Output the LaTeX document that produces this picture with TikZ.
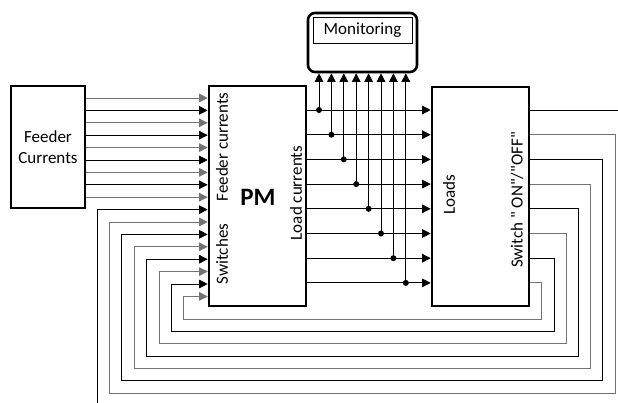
\documentclass[tikz,border=0pt]{standalone}
\usepackage{fontspec}
\setmainfont{Carlito}
\newfontfamily\plainquotes{Carlito}
\usetikzlibrary{arrows.meta}

\begin{document}
\begin{tikzpicture}[x=1pt,y=-1pt,
        >={Triangle[length=8.5pt,width=8.5pt]},
        box/.style={draw,line width=2.6pt,inner sep=0pt},
        wire/.style={line width=0.9pt},
        tap/.style={circle,fill,inner sep=0pt,minimum size=6pt},
        lbl/.style={font=\fontsize{17}{20.5}\selectfont,inner sep=0pt}]
            \useasboundingbox (0,0) rectangle (618,403);
            \clip (0,0) rectangle (618,403);

            \node[box,lbl,align=center,minimum width=74pt,minimum height=122pt] (feeder) at (48,147) {Feeder\\Currents};
            \node[box,minimum width=97pt,minimum height=220pt] (pm) at (257.5,196) {};
            \node[box,minimum width=97pt,minimum height=219pt] (loads) at (480.5,196.5) {};
            \node[box,rounded corners=7pt,minimum width=109pt,minimum height=59pt] (mon) at (362.5,42.5) {};
            \node[draw,line width=0.8pt,lbl,minimum width=99pt,minimum height=26pt] (monlabel) at (362.5,30) {Monitoring};

            \node[lbl,rotate=90] (fcur) at (222,147) {Feeder currents};
            \node[lbl,rotate=90] (sw) at (222,254) {Switches};
            \node[lbl,rotate=90] (lcur) at (296,193) {Load currents};
            \node[font=\fontsize{25}{30}\selectfont\bfseries,inner sep=0pt] (pmlabel) at (258,197) {PM};
            \node[lbl,rotate=90] (ldlabel) at (449,195) {Loads};
            \node[lbl,rotate=90,font=\fontsize{17}{20.5}\plainquotes] (swlabel) at (517,200) {Switch " ON"/"OFF"};

            % feeder currents into PM
            \foreach \k [evaluate=\k as \y using 98+12.4*\k,
                         evaluate=\k as \c using {int(mod(\k,2)==0 ? 55 : 100)}] in {0,...,8}
                \draw[wire,->,black!\c] (feeder.east |- 0,\y) -- (pm.west |- 0,\y);

            % switch states back from the loads
            \foreach \i in {0,...,7} {
                \pgfmathsetmacro\yl{209.6+12.4*\i}
                \pgfmathsetmacro\xl{97+12.4*\i}
                \pgfmathsetmacro\yb{405.3-12.3*\i}
                \pgfmathsetmacro\xr{627.2-12.2*\i}
                \pgfmathsetmacro\yr{110+24.7*\i}
                \pgfmathtruncatemacro\c{mod(\i,2)==0 ? 100 : 55}
                \draw[wire,->,black!\c] (loads.east |- 0,\yr) -| (\xr,\yb) -| (\xl,\yl) -- (pm.west |- 0,\yl);
            }

            % load currents, tapped for monitoring
            \foreach \i in {0,...,7} {
                \pgfmathsetmacro\y{110+24.7*\i}
                \pgfmathsetmacro\x{319+12.4*\i}
                \draw[wire,->] (pm.east |- 0,\y) -- (loads.west |- 0,\y);
                \node[tap] (tap\i) at (\x,\y) {};
                \draw[wire,->] (tap\i.center) -- (tap\i |- mon.south);
            }
        \end{tikzpicture}
\end{document}
